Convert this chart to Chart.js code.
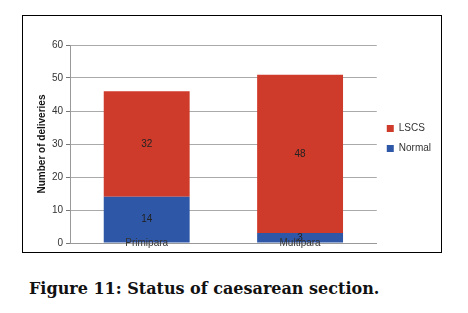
<!DOCTYPE html>
<html>
<head>
<meta charset="utf-8">
<script src="https://cdn.jsdelivr.net/npm/chart.js@4/dist/chart.umd.min.js"></script>
<style>
  body { margin: 0; background: #fff; }
  #frame { position: absolute; left: 22px; top: 15px; width: 418px; height: 236px; border: 1px solid #000; }
  #wrap { position: absolute; left: 0; top: 0; width: 418px; height: 236px; }
  #caption { position: absolute; left: 29px; top: 279px; font: bold 16px "DejaVu Serif", serif; color: #111; white-space: nowrap; }
</style>
</head>
<body>
<div id="frame"><div id="wrap"><canvas id="chart"></canvas></div></div>
<div id="caption">Figure 11: Status of caesarean section.</div>
<script>
"use strict";

var categories = ["Primipara", "Multipara"];
var normalValues = [14, 3];
var lscsValues = [32, 48];
var yTicks = [0, 10, 20, 30, 40, 50, 60];

var red = "#cf3b2a";
var blue = "#2f57a8";
var fontFamily = "'Liberation Sans', Arial, sans-serif";

// values in the middle of each segment, category names over the bar bottoms
var barTexts = {
  id: "barTexts",
  afterLayout: function(chart) {
    // lift the legend a little, as in the original
    chart.legend.bottom -= 20;
  },
  afterDatasetsDraw: function(chart) {
    var ctx = chart.ctx;
    ctx.save();
    ctx.font = "10px " + fontFamily;
    ctx.fillStyle = "#222";
    ctx.textAlign = "center";
    ctx.textBaseline = "middle";
    chart.data.datasets.forEach(function(ds, i) {
      chart.getDatasetMeta(i).data.forEach(function(bar, j) {
        ctx.fillText(String(ds.data[j]), bar.x, (bar.y + bar.base) / 2);
      });
    });
    var xScale = chart.scales.x;
    ctx.fillStyle = "#333";
    chart.data.labels.forEach(function(label, j) {
      ctx.fillText(label, xScale.getPixelForTick(j), xScale.top);
    });
    ctx.restore();
  }
};

new Chart(document.getElementById("chart"), {
  type: "bar",
  data: {
    labels: categories,
    datasets: [{
      label: "Normal",
      data: normalValues,
      backgroundColor: blue,
      barPercentage: 0.56,
      categoryPercentage: 1
    }, {
      label: "LSCS",
      data: lscsValues,
      backgroundColor: red,
      barPercentage: 0.56,
      categoryPercentage: 1
    }]
  },
  options: {
    responsive: true,
    maintainAspectRatio: false,
    animation: false,
    layout: { padding: { top: 29, right: 0, left: 0, bottom: 0 } },
    plugins: {
      tooltip: { enabled: false },
      legend: {
        position: "right",
        reverse: true,
        labels: {
          boxWidth: 7,
          boxHeight: 7,
          padding: 10,
          color: "#333",
          font: { family: fontFamily, size: 10 }
        }
      }
    },
    scales: {
      x: {
        stacked: true,
        grid: { display: false, drawTicks: false },
        border: { color: "#999" },
        ticks: { display: false },
        afterFit: function(scale) { scale.height = 9; }
      },
      y: {
        stacked: true,
        min: 0,
        max: 60,
        afterBuildTicks: function(scale) {
          scale.ticks = yTicks.map(function(v) { return { value: v }; });
        },
        afterFit: function(scale) { scale.width = 47; },
        grid: { color: "#aaa", tickLength: 4, tickColor: "#777" },
        border: { color: "#999" },
        ticks: {
          padding: 3,
          color: "#333",
          font: { family: fontFamily, size: 10 }
        },
        title: {
          display: true,
          text: "Number of deliveries",
          color: "#111",
          padding: { top: 13, bottom: 0 },
          font: { family: fontFamily, size: 10, weight: "bold" }
        }
      }
    }
  },
  plugins: [barTexts]
});
</script>
</body>
</html>
